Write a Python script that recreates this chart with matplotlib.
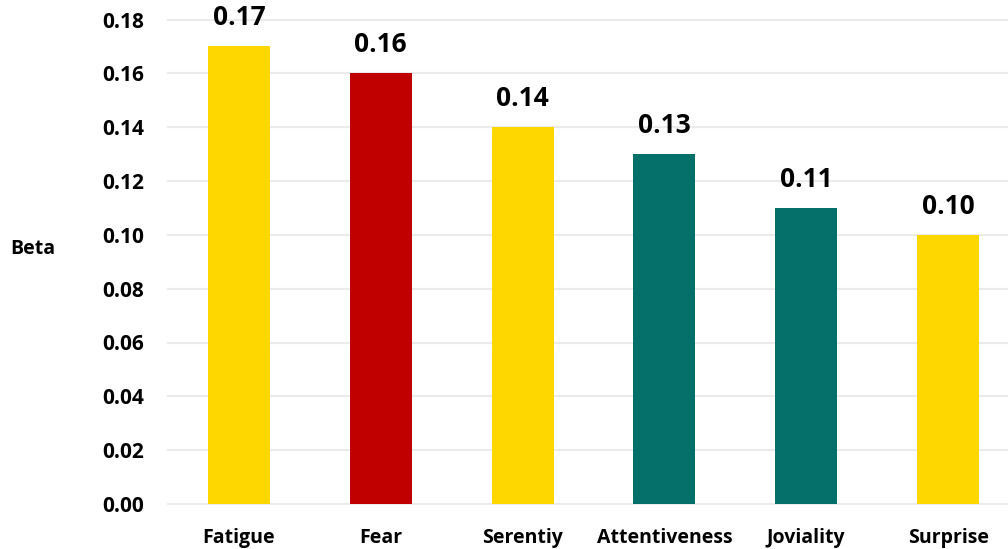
import matplotlib
matplotlib.use("Agg")
import matplotlib.pyplot as plt

categories = ["Fatigue", "Fear", "Serentiy", "Attentiveness", "Joviality", "Surprise"]
beta = [0.17, 0.16, 0.14, 0.13, 0.11, 0.10]
bar_colors = ["#FFD700", "#C00000", "#FFD700", "#05706A", "#05706A", "#FFD700"]
yticks = [0.00, 0.02, 0.04, 0.06, 0.08, 0.10, 0.12, 0.14, 0.16, 0.18]

plt.rcParams["font.family"] = ["Open Sans", "DejaVu Sans"]
plt.rcParams["font.weight"] = "bold"

W, H = 1008, 549
fig = plt.figure(figsize=(W / 100, H / 100), dpi=100)
ax = fig.add_axes([168 / W, (H - 504) / H, (1019 - 168) / W, (504 - 19.5) / H])

x = list(range(len(categories)))
ax.bar(x, beta, width=0.437, color=bar_colors, zorder=3)

for xi, v in zip(x, beta):
    ax.annotate(f"{v:.2f}", (xi, v), xytext=(0, 11), textcoords="offset points",
                ha="center", va="bottom", fontsize=19, fontweight="bold", color="#000000")

ax.set_xlim(-0.5, len(categories) - 0.5)
ax.set_ylim(0, 0.18)
ax.set_yticks(yticks)
ax.set_yticklabels([f"{t:.2f}" for t in yticks], fontsize=15, fontweight="bold")
ax.set_xticks(x)
ax.set_xticklabels(categories, fontsize=14, fontweight="bold")
ax.tick_params(axis="both", length=0)
ax.tick_params(axis="y", pad=17)
ax.tick_params(axis="x", pad=17)

ax.grid(axis="y", color="#EBEBEB", linewidth=1.5, zorder=0)
for gl in ax.get_ygridlines():
    gl.set_clip_on(False)
for s in ax.spines.values():
    s.set_visible(False)

fig.text(33 / W, 1 - 249 / H, "Beta", ha="center", va="center", fontsize=14, fontweight="bold")

fig.savefig("out.png", dpi=100, facecolor="white")
